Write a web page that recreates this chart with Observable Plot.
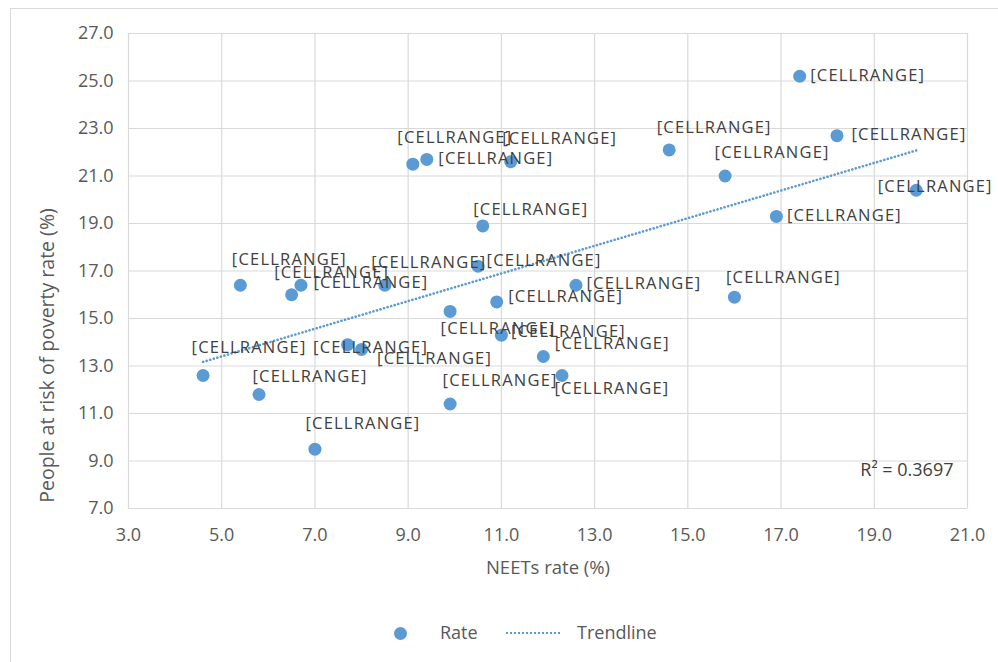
<!DOCTYPE html>
<html>
<head>
<meta charset="utf-8">
<script src="https://cdn.jsdelivr.net/npm/d3@7"></script>
<script src="https://cdn.jsdelivr.net/npm/@observablehq/plot@0.6"></script>
<style>
  html, body { margin: 0; padding: 0; background: #ffffff; overflow: hidden; }
  body { width: 998px; height: 662px; position: relative; font-family: "Open Sans", sans-serif; }
  #frame { position: absolute; left: 10px; top: 8px; width: 1100px; height: 700px; border: 1px solid #d9d9d9; box-sizing: border-box; }
  #chart { position: absolute; left: 0; top: 0; }
  #legend { position: absolute; left: 0; top: 600px; width: 998px; height: 62px; color: #595959; font-size: 18px; }
  #legend .dot { position: absolute; left: 393.5px; top: 26.5px; width: 13px; height: 13px; border-radius: 50%; background: #5b9bd5; }
  #legend .t1 { position: absolute; left: 440px; top: 19px; line-height: 26px; }
  #legend .line { position: absolute; left: 506px; top: 32px; width: 54px; height: 0; border-top: 2px dotted #5b9bd5; }
  #legend .t2 { position: absolute; left: 577px; top: 19px; line-height: 26px; }
</style>
</head>
<body>
<div id="frame"></div>
<div id="chart"></div>
<div id="legend">
  <span class="dot"></span><span class="t1">Rate</span>
  <span class="line"></span><span class="t2">Trendline</span>
</div>
<script>
// NEETs rate (%) for each country
const neets = [4.6, 5.4, 5.8, 6.5, 6.7, 7.0, 7.7, 8.0, 8.5, 9.1, 9.4, 9.9, 9.9, 10.6,
               10.5, 10.9, 11.0, 11.2, 11.9, 12.3, 12.6, 14.6, 15.8, 16.0, 16.9, 17.4, 18.2, 19.9];
// People at risk of poverty rate (%)
const poverty = [12.6, 16.4, 11.8, 16.0, 16.4, 9.5, 13.9, 13.7, 16.4, 21.5, 21.7, 15.3, 11.4, 18.9,
                 17.2, 15.7, 14.3, 21.6, 13.4, 12.6, 16.4, 22.1, 21.0, 15.9, 19.3, 25.2, 22.7, 20.4];
const labelText = "[CELLRANGE]";
const xTicks = [3, 5, 7, 9, 11, 13, 15, 17, 19, 21];
const yTicks = [7, 9, 11, 13, 15, 17, 19, 21, 23, 25, 27];
const xTitle = "NEETs rate (%)";
const yTitle = "People at risk of poverty rate (%)";
const r2Label = "R² = 0.3697";

// label placement (pixel nudges), layout only
const labelNudge = [[46,-28],[49,-26],[51,-18],[40,-22],[70,-3],[48,-25],[23,3],[73,9],[44,-23],[42,-26],
                    [69,-1],[48,17],[50,-23],[48,-16],[66,-6],[69,-5],[67,-3],[49,-23],[69,-13],[50,13],
                    [68,-2],[45,-22],[47,-23],[49,-19],[68,-1],[68,-1],[72,-1],[19,-4]];

const data = neets.map((x, i) => ({x, y: poverty[i], label: labelText}));
const blue = "#5b9bd5";
const grey = "#595959";
const dark = "#404040";

const labelMarks = data.map((d, i) => Plot.text([d], {
  x: "x", y: "y", text: "label",
  dx: labelNudge[i][0], dy: labelNudge[i][1],
  fontSize: 16.5, fill: dark, textAnchor: "middle", lineAnchor: "middle"
}));

const chart = Plot.plot({
  width: 998, height: 600,
  marginLeft: 128, marginRight: 31, marginTop: 33, marginBottom: 92,
  style: {fontFamily: "Open Sans, sans-serif", fontSize: "18px", color: grey, background: "transparent", overflow: "visible"},
  x: {domain: [3, 21], ticks: xTicks, tickFormat: d3.format(".1f"), label: null, tickSize: 0, tickPadding: 20},
  y: {domain: [7, 27], ticks: yTicks, tickFormat: d3.format(".1f"), label: null, tickSize: 0, tickPadding: 15},
  marks: [
    Plot.ruleX(xTicks, {stroke: "#d9d9d9", strokeWidth: 1.2}),
    Plot.ruleY(yTicks, {stroke: "#d9d9d9", strokeWidth: 1.2}),
    Plot.linearRegressionY(data, {x: "x", y: "y", stroke: blue, strokeWidth: 2.6,
      strokeDasharray: "0.1 3.6", strokeLinecap: "round", ci: 0}),
    Plot.dot(data, {x: "x", y: "y", r: 6.5, fill: blue, stroke: "none"}),
    ...labelMarks,
    Plot.text([r2Label], {frameAnchor: "bottom-right", dx: -14, dy: -38, textAnchor: "end",
      lineAnchor: "middle", fontSize: 18, fill: dark}),
    Plot.text([xTitle], {frameAnchor: "bottom", dy: 60, textAnchor: "middle", lineAnchor: "middle", fontSize: 18.5, fill: grey}),
    Plot.text([yTitle], {frameAnchor: "left", dx: -81, dy: 84.5, rotate: -90, textAnchor: "middle",
      lineAnchor: "middle", fontSize: 19.5, fill: grey})
  ]
});
document.getElementById("chart").appendChild(chart);
chart.querySelectorAll("text").forEach(t => {
  if (t.textContent === labelText) t.setAttribute("letter-spacing", "1.2");
});
</script>
</body>
</html>
